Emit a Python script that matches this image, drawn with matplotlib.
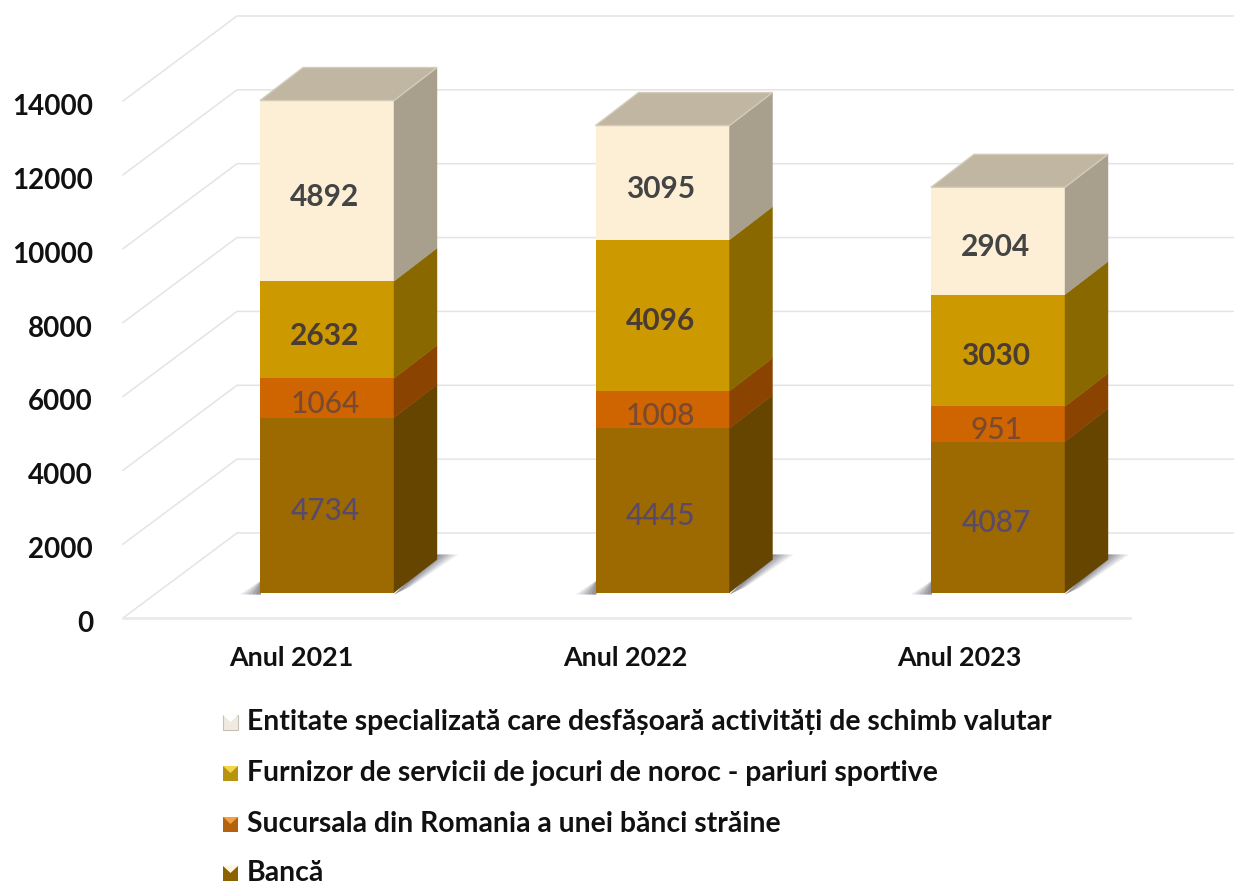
import matplotlib
matplotlib.use('Agg')
import matplotlib.pyplot as plt
import numpy as np
from matplotlib.patches import Polygon, Rectangle

plt.rcParams['font.family'] = ['Lato', 'Noto Sans', 'DejaVu Sans']

# Data
years = ['Anul 2021', 'Anul 2022', 'Anul 2023']
banca = [4734, 4445, 4087]
sucursala = [1064, 1008, 951]
furnizor = [2632, 4096, 3030]
entitate = [4892, 3095, 2904]
series_names = ['Bancă',
                'Sucursala din Romania a unei bănci străine',
                'Furnizor de servicii de jocuri de noroc - pariuri sportive',
                'Entitate specializată care desfășoară activități de schimb valutar']
y_ticks = [0, 2000, 4000, 6000, 8000, 10000, 12000, 14000]

series = [banca, sucursala, furnizor, entitate]
front_cols = ['#9c6a00', '#cf6500', '#cc9900', '#fdefd6']
side_cols = ['#664500', '#8a4300', '#8a6800', '#a89f8c']
top_col = '#c0b6a2'
label_cols = ['#5a4a6a', '#7a4a30', '#4a3c30', '#444444']
label_weights = ['medium', 'medium', 'bold', 'bold']
swatch_main = ['#8c6200', '#b4620f', '#b8930f', '#f0ebe2']
swatch_tri = ['#fff4dc', '#f2a13c', '#f5d44a', '#ffffff']

# one axes over the whole figure, one pixel wide in x, y in chart units
W, H = 1234, 885
px_per_unit = 0.03693
base_px = 592.5

fig = plt.figure(figsize=(W / 100, H / 100), dpi=100)
ax = fig.add_axes([0, 0, 1, 1])
ax.set_xlim(0, W)
ax.set_ylim((base_px - H) / px_per_unit, base_px / px_per_unit)
ax.axis('off')


def py(pixel):
    # pixel row -> y data
    return (base_px - pixel) / px_per_unit


def dy(pixels):
    return pixels / px_per_unit


# walls and grid
front_x, back_x = 123, 237
wall_shift = dy(-25.5)
wall_rise = dy(85)
grid_col = '#e4e4e6'
for t in y_ticks:
    y0 = t + wall_shift
    if t == 0:
        ax.plot([front_x, back_x], [y0, y0 + wall_rise], color=grid_col, lw=1.1)
        ax.plot([front_x, back_x + 893], [y0, y0], color='#eaeaec', lw=2)
        ax.plot([back_x, W], [y0 + wall_rise, y0 + wall_rise], color=grid_col, lw=1.1)
    else:
        ax.plot([front_x, back_x, W], [y0, y0 + wall_rise, y0 + wall_rise],
                color=grid_col, lw=1.1)
    ax.text(93, y0 + dy(-6), str(t), ha='right', va='center', fontsize=20,
            fontweight='bold', color='#111111')

# bars
positions = 327 + 335.5 * np.arange(len(years))
bar_w = 134
dx_side, dy_side = 43, dy(33)

for p in positions:
    # soft shadow on the floor, darker close to the bar
    l, r = p - bar_w / 2, p + bar_w / 2
    for k, a in zip([1.0, 0.8, 0.6, 0.4, 0.2], [0.14, 0.18, 0.22, 0.26, 0.3]):
        ax.add_patch(Polygon([[r, dy(-2)], [r + dx_side, dy(38)],
                              [r + dx_side + 21 * k, dy(38)], [r + 3 + 14 * k, dy(6 * k)]],
                             closed=True, fc='#6c6c7c', ec='none', alpha=a, zorder=1))
        ax.add_patch(Polygon([[l + 1, dy(12)], [l - 20 * k, dy(-2)], [l + 1, dy(-2)]],
                             closed=True, fc='#6c6c7c', ec='none', alpha=a, zorder=1))

bottoms = np.zeros(len(years))
for vals, fc, sc, lc, lw8 in zip(series, front_cols, side_cols, label_cols, label_weights):
    vals = np.array(vals)
    ax.bar(positions, vals, bottom=bottoms, width=bar_w, color=fc, zorder=3)
    for p, b, v in zip(positions, bottoms, vals):
        r = p + bar_w / 2
        ax.add_patch(Polygon([[r, b], [r + dx_side, b + dy_side],
                              [r + dx_side, b + v + dy_side], [r, b + v]],
                             closed=True, fc=sc, ec=sc, lw=0.3, zorder=3))
        ax.text(p - 2, b + v / 2 + dy(-6), str(v), ha='center', va='center', fontsize=21.5,
                color=lc, fontweight=lw8, zorder=5)
    bottoms = bottoms + vals

# tops
for p, t in zip(positions, bottoms):
    l, r = p - bar_w / 2, p + bar_w / 2
    ax.add_patch(Polygon([[l, t], [l + dx_side, t + dy_side], [r + dx_side, t + dy_side], [r, t]],
                         closed=True, fc=top_col, ec='#d4ccba', lw=1, zorder=4))

# category labels
for i, name in enumerate(years):
    ax.text(291 + 334 * i, py(658), name, ha='center', va='center', fontsize=19.4,
            fontweight='bold', color='#111111')

# legend, top entry first
legend_rows = [722, 773, 824, 873]
for row, name, m, tri in zip(legend_rows, series_names[::-1], swatch_main[::-1], swatch_tri[::-1]):
    ax.add_patch(Rectangle((223, py(row + 8)), 15, dy(15), fc=m,
                           ec='#c8c0b4' if m == swatch_main[3] else 'none', lw=0.8, zorder=5))
    ax.add_patch(Polygon([[223, py(row - 7)], [238, py(row - 7)], [230.5, py(row)]],
                         closed=True, fc=tri, ec='none', zorder=6))
    ax.text(247, py(row), name, ha='left', va='center', fontsize=20.4, fontweight='bold',
            color='#111111')

fig.savefig('out.png', dpi=100)
